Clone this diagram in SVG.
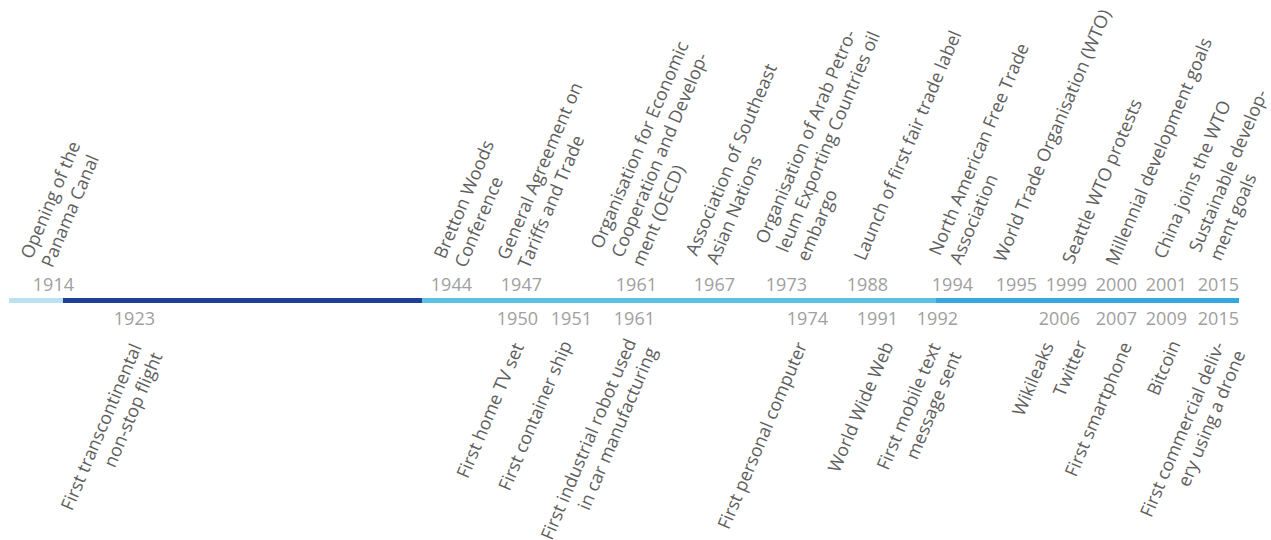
<svg xmlns="http://www.w3.org/2000/svg" width="1271" height="540" viewBox="0 0 1271 540">
<style>
.lbl{font-family:"Open Sans","Noto Sans","Liberation Sans",sans-serif;font-size:18px;fill:#5e5e5e}
.yr{font-family:"Open Sans","Noto Sans","Liberation Sans",sans-serif;font-size:18px;fill:#a0a0a0;text-anchor:end}
.end{text-anchor:end}
</style>
<rect width="1271" height="540" fill="#ffffff"/>
<g id="timeline-bar">
<rect x="9" y="298" width="54" height="5" fill="#b9e1f1"/>
<rect x="63" y="298" width="359" height="5" fill="#1e3f95"/>
<rect x="422" y="298" width="514" height="5" fill="#5cc2e3"/>
<rect x="936" y="298" width="303" height="5" fill="#36a8e0"/>
</g>
<g id="top-years">
<text class="yr" x="74" y="291">1914</text>
<text class="yr" x="472" y="291">1944</text>
<text class="yr" x="542" y="291">1947</text>
<text class="yr" x="657" y="291">1961</text>
<text class="yr" x="735" y="291">1967</text>
<text class="yr" x="807" y="291">1973</text>
<text class="yr" x="888" y="291">1988</text>
<text class="yr" x="973" y="291">1994</text>
<text class="yr" x="1037" y="291">1995</text>
<text class="yr" x="1087" y="291">1999</text>
<text class="yr" x="1137" y="291">2000</text>
<text class="yr" x="1187" y="291">2001</text>
<text class="yr" x="1239" y="291">2015</text>
</g>
<g id="bottom-years">
<text class="yr" x="155" y="325">1923</text>
<text class="yr" x="538" y="325">1950</text>
<text class="yr" x="592" y="325">1951</text>
<text class="yr" x="655" y="325">1961</text>
<text class="yr" x="828" y="325">1974</text>
<text class="yr" x="898" y="325">1991</text>
<text class="yr" x="958" y="325">1992</text>
<text class="yr" x="1080" y="325">2006</text>
<text class="yr" x="1137" y="325">2007</text>
<text class="yr" x="1187" y="325">2009</text>
<text class="yr" x="1239" y="325">2015</text>
</g>
<g id="events-above">
<g id="ev-1914"><text class="lbl" transform="translate(31.7,260) rotate(-67)"><tspan x="0" y="0">Opening of the</tspan><tspan x="0" dy="22.5">Panama Canal</tspan></text></g>
<g id="ev-1944"><text class="lbl" transform="translate(445,260) rotate(-67)"><tspan x="0" y="0">Bretton Woods</tspan><tspan x="0" dy="22.5">Conference</tspan></text></g>
<g id="ev-1947"><text class="lbl" transform="translate(508.3,261) rotate(-67)"><tspan x="0" y="0">General Agreement on</tspan><tspan x="0" dy="22.5">Tariffs and Trade</tspan></text></g>
<g id="ev-1961a"><text class="lbl" transform="translate(601.7,250) rotate(-67)"><tspan x="0" y="0">Organisation for Economic</tspan><tspan x="0" dy="22.5">Cooperation and Develop-</tspan><tspan x="0" dy="22.5">ment (OECD)</tspan></text></g>
<g id="ev-1967"><text class="lbl" transform="translate(696.7,256.7) rotate(-67)"><tspan x="0" y="0">Association of Southeast</tspan><tspan x="0" dy="22.5">Asian Nations</tspan></text></g>
<g id="ev-1973"><text class="lbl" transform="translate(766.7,245) rotate(-67)"><tspan x="0" y="0">Organisation of Arab Petro-</tspan><tspan x="0" dy="22.5">leum Exporting Countries oil</tspan><tspan x="0" dy="22.5">embargo</tspan></text></g>
<g id="ev-1988"><text class="lbl" transform="translate(865,261.7) rotate(-67)">Launch of first fair trade label</text></g>
<g id="ev-1994"><text class="lbl" transform="translate(940,256.7) rotate(-67)"><tspan x="0" y="0">North American Free Trade</tspan><tspan x="0" dy="22.5">Association</tspan></text></g>
<g id="ev-1995"><text class="lbl" transform="translate(1005,263.3) rotate(-67)">World Trade Organisation (WTO)</text></g>
<g id="ev-1999"><text class="lbl" transform="translate(1073.3,265) rotate(-67)">Seattle WTO protests</text></g>
<g id="ev-2000"><text class="lbl" transform="translate(1116.7,266.7) rotate(-67)">Millennial development goals</text></g>
<g id="ev-2001"><text class="lbl" transform="translate(1165,260) rotate(-67)">China joins the WTO</text></g>
<g id="ev-2015a"><text class="lbl" transform="translate(1200,253.3) rotate(-67)"><tspan x="0" y="0">Sustainable develop-</tspan><tspan x="0" dy="22.5">ment goals</tspan></text></g>
</g>
<g id="events-below">
<g id="ev-1923"><text class="lbl end" transform="translate(142,347) rotate(-67)"><tspan x="0" y="0">First transcontinental</tspan><tspan x="0" dy="22.5">non-stop flight</tspan></text></g>
<g id="ev-1950"><text class="lbl end" transform="translate(524.3,346.4) rotate(-67)">First home TV set</text></g>
<g id="ev-1951"><text class="lbl end" transform="translate(572.3,344) rotate(-67)">First container ship</text></g>
<g id="ev-1961b"><text class="lbl end" transform="translate(636.5,342) rotate(-67)"><tspan x="0" y="0">First industrial robot used</tspan><tspan x="0" dy="22.5">in car manufacturing</tspan></text></g>
<g id="ev-1974"><text class="lbl end" transform="translate(807.3,345.5) rotate(-67)">First personal computer</text></g>
<g id="ev-1991"><text class="lbl end" transform="translate(893.7,345) rotate(-67)">World Wide Web</text></g>
<g id="ev-1992"><text class="lbl end" transform="translate(941,346.4) rotate(-67)"><tspan x="0" y="0">First mobile text</tspan><tspan x="0" dy="22.5">message sent</tspan></text></g>
<g id="ev-2006a"><text class="lbl end" transform="translate(1054,345.5) rotate(-67)">Wikileaks</text></g>
<g id="ev-2006b"><text class="lbl end" transform="translate(1087.3,343.8) rotate(-67)">Twitter</text></g>
<g id="ev-2007"><text class="lbl end" transform="translate(1132.3,345.5) rotate(-67)">First smartphone</text></g>
<g id="ev-2009"><text class="lbl end" transform="translate(1180.7,343.8) rotate(-67)">Bitcoin</text></g>
<g id="ev-2015b"><text class="lbl end" transform="translate(1225,345) rotate(-67)"><tspan x="0" y="0">First commercial deliv-</tspan><tspan x="0" dy="22.5">ery using a drone</tspan></text></g>
</g>
</svg>
